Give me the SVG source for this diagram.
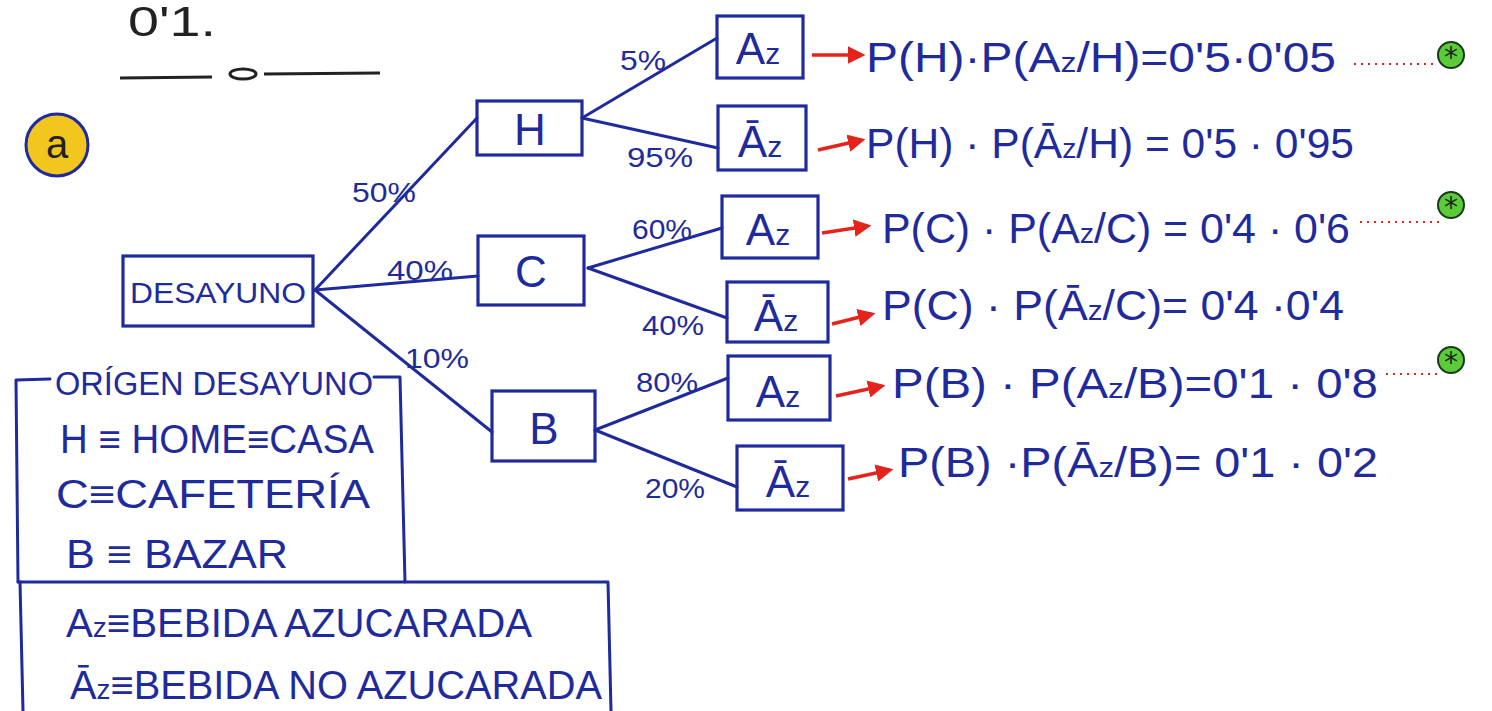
<svg xmlns="http://www.w3.org/2000/svg" width="1492" height="711" viewBox="0 0 1492 711">
  <style>
    .ink { fill: none; stroke: #1f2b9c; stroke-width: 3; stroke-linecap: round; stroke-linejoin: round; }
    .box { fill: none; stroke: #1f2b9c; stroke-width: 3.2; }
    .t { font-family: "Liberation Sans", "DejaVu Sans", sans-serif; fill: #1f2b9c; }
    .lbl { font-size: 28px; }
    .node { font-size: 44px; text-anchor: middle; }
    .expr { font-size: 42px; }
    .leg { font-size: 40px; }
    .red { fill: none; stroke: #e4241c; stroke-width: 3.5; }
    .dots { fill: none; stroke: #e4241c; stroke-width: 2; stroke-dasharray: 2 5; }
    .star { fill: #5ccb3a; stroke: #1a3a1a; stroke-width: 2; }
  </style>
  <defs>
    <marker id="head" viewBox="0 0 10 10" refX="8" refY="5" markerWidth="5" markerHeight="5" orient="auto">
      <path d="M0,0 L10,5 L0,10 z" fill="#e4241c"/>
    </marker>
  </defs>

  <rect width="1492" height="711" fill="#ffffff"/>

  <!-- heading -->
  <g id="heading">
    <text x="128" y="36" class="t" style="fill:#222;font-size:42px" textLength="88" lengthAdjust="spacingAndGlyphs">0'1.</text>
    <path d="M120,78 L212,77" stroke="#222" stroke-width="3" fill="none"/>
    <ellipse cx="243" cy="74" rx="13" ry="5" fill="none" stroke="#222" stroke-width="3"/>
    <path d="M264,74 L380,73" stroke="#222" stroke-width="3" fill="none"/>
  </g>

  <!-- part marker -->
  <g id="part-a">
    <circle cx="57" cy="145" r="31" fill="#f3c51f" stroke="#1f2b9c" stroke-width="3"/>
    <text x="57" y="158" class="t" style="fill:#222;font-size:40px;text-anchor:middle">a</text>
  </g>

  <!-- connectors -->
  <g id="connectors">
    <path class="ink" d="M315,290 L477,118"/>
    <path class="ink" d="M315,290 L478,276"/>
    <path class="ink" d="M315,290 L492,432"/>
    <path class="ink" d="M582,118 L717,38"/>
    <path class="ink" d="M582,118 L718,148"/>
    <path class="ink" d="M588,268 L722,228"/>
    <path class="ink" d="M588,268 L727,318"/>
    <path class="ink" d="M595,430 L728,378"/>
    <path class="ink" d="M595,430 L737,487"/>
    <!-- branch probabilities -->
    <text class="t lbl" x="352" y="202" textLength="64" lengthAdjust="spacingAndGlyphs">50%</text>
    <text class="t lbl" x="387" y="280" textLength="66" lengthAdjust="spacingAndGlyphs">40%</text>
    <text class="t lbl" x="405" y="368" textLength="64" lengthAdjust="spacingAndGlyphs">10%</text>
    <text class="t lbl" x="620" y="70" textLength="46" lengthAdjust="spacingAndGlyphs">5%</text>
    <text class="t lbl" x="627" y="167" textLength="66" lengthAdjust="spacingAndGlyphs">95%</text>
    <text class="t lbl" x="632" y="239" textLength="60" lengthAdjust="spacingAndGlyphs">60%</text>
    <text class="t lbl" x="642" y="335" textLength="62" lengthAdjust="spacingAndGlyphs">40%</text>
    <text class="t lbl" x="636" y="392" textLength="62" lengthAdjust="spacingAndGlyphs">80%</text>
    <text class="t lbl" x="645" y="498" textLength="60" lengthAdjust="spacingAndGlyphs">20%</text>
    <!-- arrows to products -->
    <path class="red" marker-end="url(#head)" d="M812,55 L862,55"/>
    <path class="red" marker-end="url(#head)" d="M818,150 L862,140"/>
    <path class="red" marker-end="url(#head)" d="M822,233 L868,226"/>
    <path class="red" marker-end="url(#head)" d="M832,324 L872,314"/>
    <path class="red" marker-end="url(#head)" d="M836,396 L882,386"/>
    <path class="red" marker-end="url(#head)" d="M848,479 L890,470"/>
    <path class="dots" d="M1354,64 L1434,64"/>
    <path class="dots" d="M1360,222 L1440,222"/>
    <path class="dots" d="M1386,374 L1440,374"/>
  </g>

  <!-- root -->
  <g id="desayuno">
    <rect class="box" x="123" y="256" width="190" height="70"/>
    <text class="t" x="130" y="303" style="font-size:30px" textLength="176" lengthAdjust="spacingAndGlyphs">DESAYUNO</text>
  </g>

  <!-- first level -->
  <g id="node-h">
    <rect class="box" x="477" y="101" width="105" height="54"/>
    <text class="t node" x="530" y="145">H</text>
  </g>
  <g id="node-c">
    <rect class="box" x="478" y="236" width="106" height="69"/>
    <text class="t node" x="531" y="287">C</text>
  </g>
  <g id="node-b">
    <rect class="box" x="492" y="391" width="103" height="70"/>
    <text class="t node" x="544" y="444">B</text>
  </g>

  <!-- second level -->
  <g id="h-az">
    <rect class="box" x="717" y="16" width="86" height="62"/>
    <text class="t node" x="758" y="64">A<tspan style="font-size:30px">z</tspan></text>
  </g>
  <g id="h-noaz">
    <rect class="box" x="718" y="106" width="88" height="64"/>
    <text class="t node" x="760" y="157">Ā<tspan style="font-size:30px">z</tspan></text>
  </g>
  <g id="c-az">
    <rect class="box" x="722" y="196" width="96" height="62"/>
    <text class="t node" x="768" y="245">A<tspan style="font-size:30px">z</tspan></text>
  </g>
  <g id="c-noaz">
    <rect class="box" x="727" y="282" width="101" height="60"/>
    <text class="t node" x="776" y="331">Ā<tspan style="font-size:30px">z</tspan></text>
  </g>
  <g id="b-az">
    <rect class="box" x="728" y="356" width="102" height="64"/>
    <text class="t node" x="778" y="407">A<tspan style="font-size:30px">z</tspan></text>
  </g>
  <g id="b-noaz">
    <rect class="box" x="737" y="446" width="106" height="64"/>
    <text class="t node" x="788" y="497">Ā<tspan style="font-size:30px">z</tspan></text>
  </g>

  <!-- products along each path -->
  <g id="products">
    <text class="t expr" x="866" y="72" textLength="470" lengthAdjust="spacingAndGlyphs">P(H)·P(A<tspan style="font-size:28px">z</tspan>/H)=0'5·0'05</text>
    <text class="t expr" x="866" y="158" textLength="488" lengthAdjust="spacingAndGlyphs">P(H) · P(Ā<tspan style="font-size:28px">z</tspan>/H) = 0'5 · 0'95</text>
    <text class="t expr" x="882" y="243" textLength="468" lengthAdjust="spacingAndGlyphs">P(C) · P(A<tspan style="font-size:28px">z</tspan>/C) = 0'4 · 0'6</text>
    <text class="t expr" x="882" y="320" textLength="462" lengthAdjust="spacingAndGlyphs">P(C) · P(Ā<tspan style="font-size:28px">z</tspan>/C)= 0'4 ·0'4</text>
    <text class="t expr" x="892" y="398" textLength="486" lengthAdjust="spacingAndGlyphs">P(B) · P(A<tspan style="font-size:28px">z</tspan>/B)=0'1 · 0'8</text>
    <text class="t expr" x="898" y="477" textLength="480" lengthAdjust="spacingAndGlyphs">P(B) ·P(Ā<tspan style="font-size:28px">z</tspan>/B)= 0'1 · 0'2</text>
  </g>

  <!-- marked outcomes -->
  <g id="marks">
    <circle class="star" cx="1451" cy="55" r="13"/>
    <text x="1451" y="67" style="font-family:'DejaVu Sans',sans-serif;font-size:28px;text-anchor:middle;fill:#1a2a1a">*</text>
    <circle class="star" cx="1451" cy="205" r="13"/>
    <text x="1451" y="217" style="font-family:'DejaVu Sans',sans-serif;font-size:28px;text-anchor:middle;fill:#1a2a1a">*</text>
    <circle class="star" cx="1451" cy="360" r="13"/>
    <text x="1451" y="372" style="font-family:'DejaVu Sans',sans-serif;font-size:28px;text-anchor:middle;fill:#1a2a1a">*</text>
  </g>

  <!-- legend -->
  <g id="legend-origin">
    <path class="ink" d="M50,379 L16,380 L18,582"/>
    <path class="ink" d="M374,377 L400,377 L405,582"/>
    <text class="t" x="55" y="395" style="font-size:34px" textLength="318" lengthAdjust="spacingAndGlyphs">ORÍGEN DESAYUNO</text>
    <text class="t leg" x="60" y="453" textLength="314" lengthAdjust="spacingAndGlyphs">H ≡ HOME≡CASA</text>
    <text class="t leg" x="56" y="508" textLength="314" lengthAdjust="spacingAndGlyphs">C≡CAFETERÍA</text>
    <text class="t leg" x="66" y="568" textLength="222" lengthAdjust="spacingAndGlyphs">B ≡ BAZAR</text>
  </g>
  <g id="legend-drink">
    <path class="ink" d="M18,582 L608,582 L611,711"/>
    <path class="ink" d="M20,582 L23,711"/>
    <text class="t leg" x="66" y="637" textLength="466" lengthAdjust="spacingAndGlyphs">A<tspan style="font-size:28px">z</tspan>≡BEBIDA AZUCARADA</text>
    <text class="t leg" x="70" y="699" textLength="532" lengthAdjust="spacingAndGlyphs">Ā<tspan style="font-size:28px">z</tspan>≡BEBIDA NO AZUCARADA</text>
  </g>
</svg>
